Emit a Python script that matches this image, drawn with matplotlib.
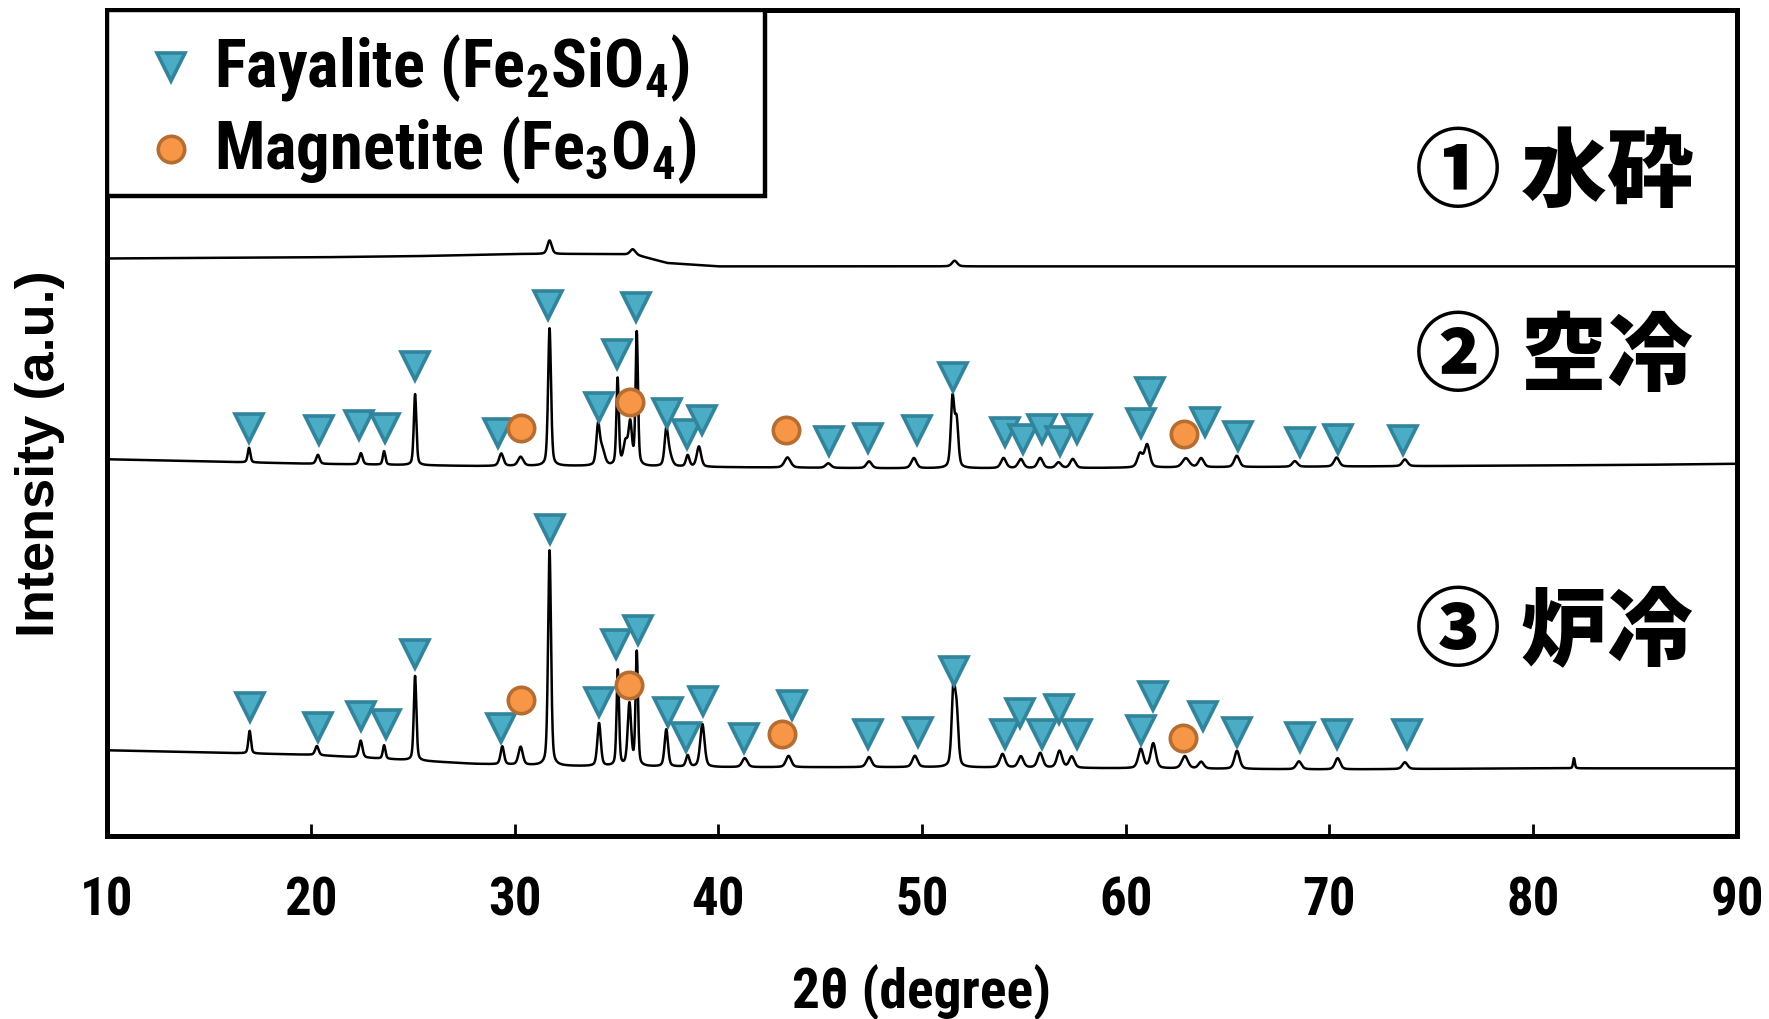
import numpy as np
import matplotlib
matplotlib.use('Agg')
import matplotlib.pyplot as plt
from matplotlib import font_manager as fm
from matplotlib.patches import Rectangle

# pick a condensed bold face if one is installed
installed = {f.name for f in fm.fontManager.ttflist}
narrow = [n for n in ['Liberation Sans Narrow', 'Roboto Condensed', 'DejaVu Sans Condensed',
                      'Open Sans Condensed', 'Liberation Sans'] if n in installed][0]

plt.rcParams['font.family'] = [narrow, 'DejaVu Sans']
plt.rcParams['font.weight'] = 'bold'
plt.rcParams['mathtext.fontset'] = 'custom'
plt.rcParams['mathtext.default'] = 'bf'
plt.rcParams['mathtext.bf'] = narrow + ':bold'
plt.rcParams['mathtext.rm'] = narrow + ':bold'

# ---- data (intensity in a.u.) ----
# ① water granulated: background + weak peaks
p1_base_tth = [10, 20, 25, 30, 35, 36, 37.5, 40, 50, 60, 70, 80, 90]
p1_base_int = [512, 513, 514, 516, 516, 515, 508, 505, 505, 505, 505, 505, 505]
p1_peak_tth = [31.72, 35.8, 51.6]
p1_peak_int = [12, 5, 5]
p1_peak_fwhm = [0.25, 0.3, 0.3]

# ② air cooled
p2_base_tth = [10, 15, 20, 28, 33, 40, 48, 56, 65, 75, 85, 90]
p2_base_int = [334, 332, 330, 328, 328, 327, 326, 326, 327, 328, 329, 330]
p2_peak_tth = [16.97, 20.35, 22.46, 23.6, 25.12, 29.35, 30.3, 31.72, 34.1, 34.3,
               35.06, 35.45, 35.68, 36.0, 37.45, 37.6, 38.5, 39.05, 43.4, 45.4,
               47.4, 49.6, 51.5, 51.7, 54.0, 54.85, 55.8, 56.7, 57.4, 60.7,
               61.05, 62.95, 63.7, 65.45, 68.3, 70.35, 73.7]
p2_peak_int = [13, 8, 10, 12, 63, 11, 8, 122, 34, 14,
               77, 20, 36, 118, 30, 10, 10, 18, 9, 4,
               6, 9, 61, 40, 9, 8, 9, 5, 8, 12,
               20, 8, 8, 10, 5, 8, 6]
p2_peak_fwhm = [0.15, 0.2, 0.2, 0.15, 0.15, 0.25, 0.3, 0.17, 0.2, 0.3,
                0.14, 0.25, 0.2, 0.14, 0.2, 0.3, 0.2, 0.25, 0.35, 0.3,
                0.3, 0.3, 0.2, 0.2, 0.3, 0.3, 0.3, 0.3, 0.3, 0.3,
                0.3, 0.4, 0.3, 0.3, 0.3, 0.3, 0.3]

# ③ furnace cooled
p3_base_tth = [10, 15, 20, 25, 28, 32, 40, 50, 60, 70, 80, 90]
p3_base_int = [76, 74, 72, 67, 64, 62, 61, 61, 60, 59, 60, 60]
p3_peak_tth = [17.0, 20.3, 22.45, 23.6, 25.12, 29.4, 30.3, 31.72, 34.15, 35.07,
               35.64, 36.0, 37.45, 38.5, 39.22, 41.3, 43.45, 47.4, 49.65, 51.54,
               51.7, 53.95, 54.85, 55.8, 56.75, 57.35, 60.74, 61.35, 62.9, 63.7,
               65.46, 68.5, 70.4, 73.7, 82.0]
p3_peak_int = [20, 8, 15, 12, 75, 16, 16, 191, 38, 85,
               55, 101, 33, 10, 38, 8, 10, 9, 10, 67,
               45, 12, 10, 13, 15, 10, 17, 22, 11, 6,
               16, 7, 10, 6, 9]
p3_peak_fwhm = [0.15, 0.2, 0.2, 0.15, 0.15, 0.2, 0.25, 0.17, 0.2, 0.14,
                0.2, 0.14, 0.2, 0.2, 0.25, 0.3, 0.3, 0.3, 0.3, 0.2,
                0.2, 0.3, 0.3, 0.3, 0.3, 0.3, 0.3, 0.3, 0.35, 0.3,
                0.3, 0.3, 0.3, 0.3, 0.1]

# phase markers
p2_fay_tth = [16.98, 20.41, 22.35, 23.62, 25.11, 29.21, 31.65, 34.14, 35.02, 35.97,
              37.46, 38.46, 39.18, 45.43, 47.37, 49.75, 51.52, 54.07, 54.96, 55.9,
              56.78, 57.61, 60.77, 61.21, 63.87, 65.53, 68.57, 70.4, 73.61]
p2_fay_int = [362, 360, 364, 362, 417, 357, 471, 380, 427, 469,
              375, 356, 369, 350, 353, 360, 407, 358, 352, 361,
              350, 361, 366, 394, 367, 355, 349, 352, 351]
p2_mag_tth = [30.32, 35.69, 43.33, 62.87]
p2_mag_int = [362, 385, 360, 356]

p3_fay_tth = [17.03, 20.35, 22.46, 23.67, 25.11, 29.32, 31.76, 34.14, 34.97, 36.08,
              37.52, 38.4, 39.23, 41.28, 43.6, 47.37, 49.81, 51.58, 54.07, 54.79,
              55.9, 56.73, 57.61, 60.77, 61.32, 63.81, 65.47, 68.57, 70.35, 73.78]
p3_fay_int = [114, 97, 106, 99, 161, 96, 272, 119, 170, 183,
              110, 88, 120, 87, 116, 90, 92, 146, 90, 109,
              90, 113, 90, 94, 124, 106, 92, 88, 90, 90]
p3_mag_tth = [30.32, 35.63, 43.11, 62.82]
p3_mag_int = [121, 134, 90, 87]

labels = ['① 水砕', '② 空冷', '③ 炉冷']
label_int = [587, 424, 180]
legend_labels = ['Fayalite (Fe$_2$SiO$_4$)', 'Magnetite (Fe$_3$O$_4$)']

tth = np.linspace(10, 90, 8001)


def pattern(base_tth, base_int, pk_tth, pk_int, pk_fwhm):
    y = np.interp(tth, base_tth, base_int)
    for c, h, w in zip(pk_tth, pk_int, pk_fwhm):
        u = (tth - c) / w
        y = y + h * (0.6 * np.exp(-4 * np.log(2) * u ** 2) + 0.4 / (1 + 4 * u ** 2))
    return y


fig = plt.figure(figsize=(17.69, 10.20), dpi=100)
ax = fig.add_axes([0.0605, 0.1794, 0.9214, 0.8095])

for args in [(p1_base_tth, p1_base_int, p1_peak_tth, p1_peak_int, p1_peak_fwhm),
             (p2_base_tth, p2_base_int, p2_peak_tth, p2_peak_int, p2_peak_fwhm),
             (p3_base_tth, p3_base_int, p3_peak_tth, p3_peak_int, p3_peak_fwhm)]:
    ax.plot(tth, pattern(*args), color='black', lw=1.8, zorder=2)

fay_style = dict(ls='none', marker='v', ms=20, mfc='#4BACC6', mec='#31849B', mew=2.6, zorder=3)
mag_style = dict(ls='none', marker='o', ms=19, mfc='#F79646', mec='#B66D31', mew=2.6, zorder=3)
ax.plot(p2_fay_tth, p2_fay_int, **fay_style)
ax.plot(p2_mag_tth, p2_mag_int, **mag_style)
ax.plot(p3_fay_tth, p3_fay_int, **fay_style)
ax.plot(p3_mag_tth, p3_mag_int, **mag_style)

for lab, yy in zip(labels, label_int):
    ax.text(81.0, yy, lab, ha='center', va='center', fontsize=62, fontweight='black',
            family=['Noto Sans CJK JP', 'DejaVu Sans'])

# legend box drawn in axes coordinates
ax.add_patch(Rectangle((0, 0.7746), 0.4035, 0.2254, transform=ax.transAxes,
                       facecolor='white', edgecolor='black', lw=3.2, zorder=5))
for st, ym, lab in [(fay_style, 0.931, legend_labels[0]), (mag_style, 0.832, legend_labels[1])]:
    ax.plot([0.0392], [ym], transform=ax.transAxes, clip_on=False, **{**st, 'zorder': 6})
    ax.text(0.0655, ym, lab, transform=ax.transAxes, ha='left', va='center',
            fontsize=48, fontweight='bold', zorder=6)

ax.set_xlim(10, 90)
ax.set_ylim(0, 732)
ax.set_xticks(range(10, 91, 10))
ax.set_yticks([])
ax.tick_params(axis='x', direction='in', length=9, width=2, pad=28, labelsize=38)
for s in ax.spines.values():
    s.set_linewidth(3.6)

ax.set_xlabel('2θ (degree)', fontsize=40, fontweight='bold', labelpad=27)
ax.set_ylabel('Intensity (a.u.)', fontsize=39, fontweight='bold', family='Liberation Sans')
ax.yaxis.set_label_coords(-0.026, 0.4645)

fig.savefig('out.png', dpi=100)
